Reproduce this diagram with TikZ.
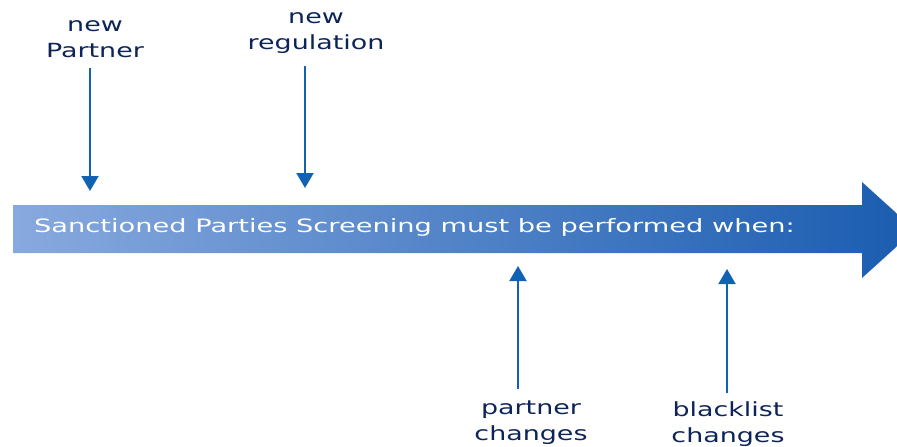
\documentclass[tikz,border=0pt]{standalone}
\usepackage{fontspec}
\usepackage{xcolor}
\usepackage{tikz}
\usetikzlibrary{arrows.meta, positioning}

\newfontfamily\barfont[FakeStretch=1.48]{DejaVu Sans}
\newfontfamily\labelfont[FakeStretch=1.38]{DejaVu Sans}
\definecolor{labelnavy}{HTML}{0D2458}
\definecolor{arrowblue}{HTML}{1262B3}
\definecolor{barlight}{HTML}{88A9DE}
\definecolor{barmid}{HTML}{7490C2}
\definecolor{bardark}{HTML}{1A5CB0}

\begin{document}
\begin{tikzpicture}[
            x=1pt, y=-1pt,
            eventlabel/.style={align=center, inner sep=0pt, text=labelnavy,
                font=\labelfont\fontsize{19.5}{26}\selectfont},
            trigger/.style={draw=arrowblue, line width=2pt,
                -{Triangle[width=17pt, length=15pt]}},
        ]
        \useasboundingbox (0,0) rectangle (897,447);
        \clip (0,0) rectangle (897,447);
        % timeline arrow
        \path[left color=barlight, middle color=barmid, right color=bardark]
            (13,205) -- (862,205) -- (862,182) -- (915,230) -- (862,278)
            -- (862,253) -- (13,253) -- cycle;
        \node (bartext) at (34,232) [anchor=base west, inner sep=0pt, text=white,
            font=\barfont\fontsize{18.4}{22}\selectfont]
            {Sanctioned Parties Screening must be performed when:};
        % events above the line
        \node (partner) at (95,57) [eventlabel, anchor=base] {new\\Partner};
        \node (regulation) at (316,49) [eventlabel, anchor=base] {new\\regulation};
        \coordinate (partnertip) at (90,191);
        \coordinate (regulationtip) at (305,188);
        \draw[trigger] (partnertip |- 0,68) -- (partnertip);
        \draw[trigger] (regulationtip |- 0,66) -- (regulationtip);
        % events below the line
        \node (changes) at (531,440) [eventlabel, anchor=base] {partner\\changes};
        \node (blacklist) at (728,442) [eventlabel, anchor=base] {blacklist\\changes};
        \coordinate (changestip) at (518,266);
        \coordinate (blacklisttip) at (727,269);
        \draw[trigger] (changestip |- 0,389) -- (changestip);
        \draw[trigger] (blacklisttip |- 0,393) -- (blacklisttip);
        \end{tikzpicture}
\end{document}
